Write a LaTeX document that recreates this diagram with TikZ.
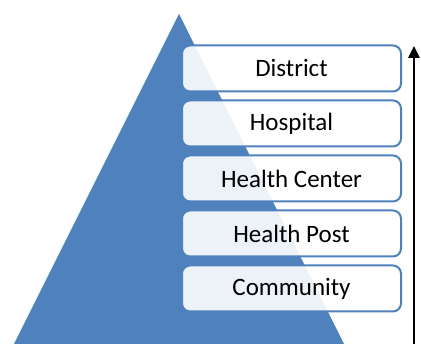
\documentclass[tikz,border=0pt]{standalone}
\usepackage{fontspec}
\setmainfont{Carlito}
\usetikzlibrary{arrows.meta}

\definecolor{pyramidblue}{HTML}{4F81BD}

\begin{document}
\begin{tikzpicture}[x=1pt, y=1pt,
	level/.style={rectangle, rounded corners=8pt, draw=pyramidblue, line width=2pt,
		fill=white, fill opacity=0.9, text opacity=1,
		minimum width=219pt, minimum height=46pt, inner sep=0pt,
		font=\fontsize{25}{30}\selectfont}]
	\useasboundingbox (0,0) rectangle (421,344);

	% Pyramid
	\fill [pyramidblue] (14,0) -- (179,330) -- (344,0) -- cycle;

	% Define nodes
	\node [level] (community) at (291.5,55.5) {Community};
	\node [level] (post) at (291.5,110.5) {Health Post};
	\node [level] (center) at (291.5,165.5) {Health Center};
	\node [level] (hospital) at (291.5,220.5) {Hospital};
	\node [level] (district) at (291.5,275.5) {District};

	% Upward arrow
	\coordinate (low) at (414,0);
	\coordinate (high) at (414,298);
	\draw [line width=2.5pt, -{Triangle[length=12pt, width=11pt]}] (low) -- (high);
\end{tikzpicture}
\end{document}
